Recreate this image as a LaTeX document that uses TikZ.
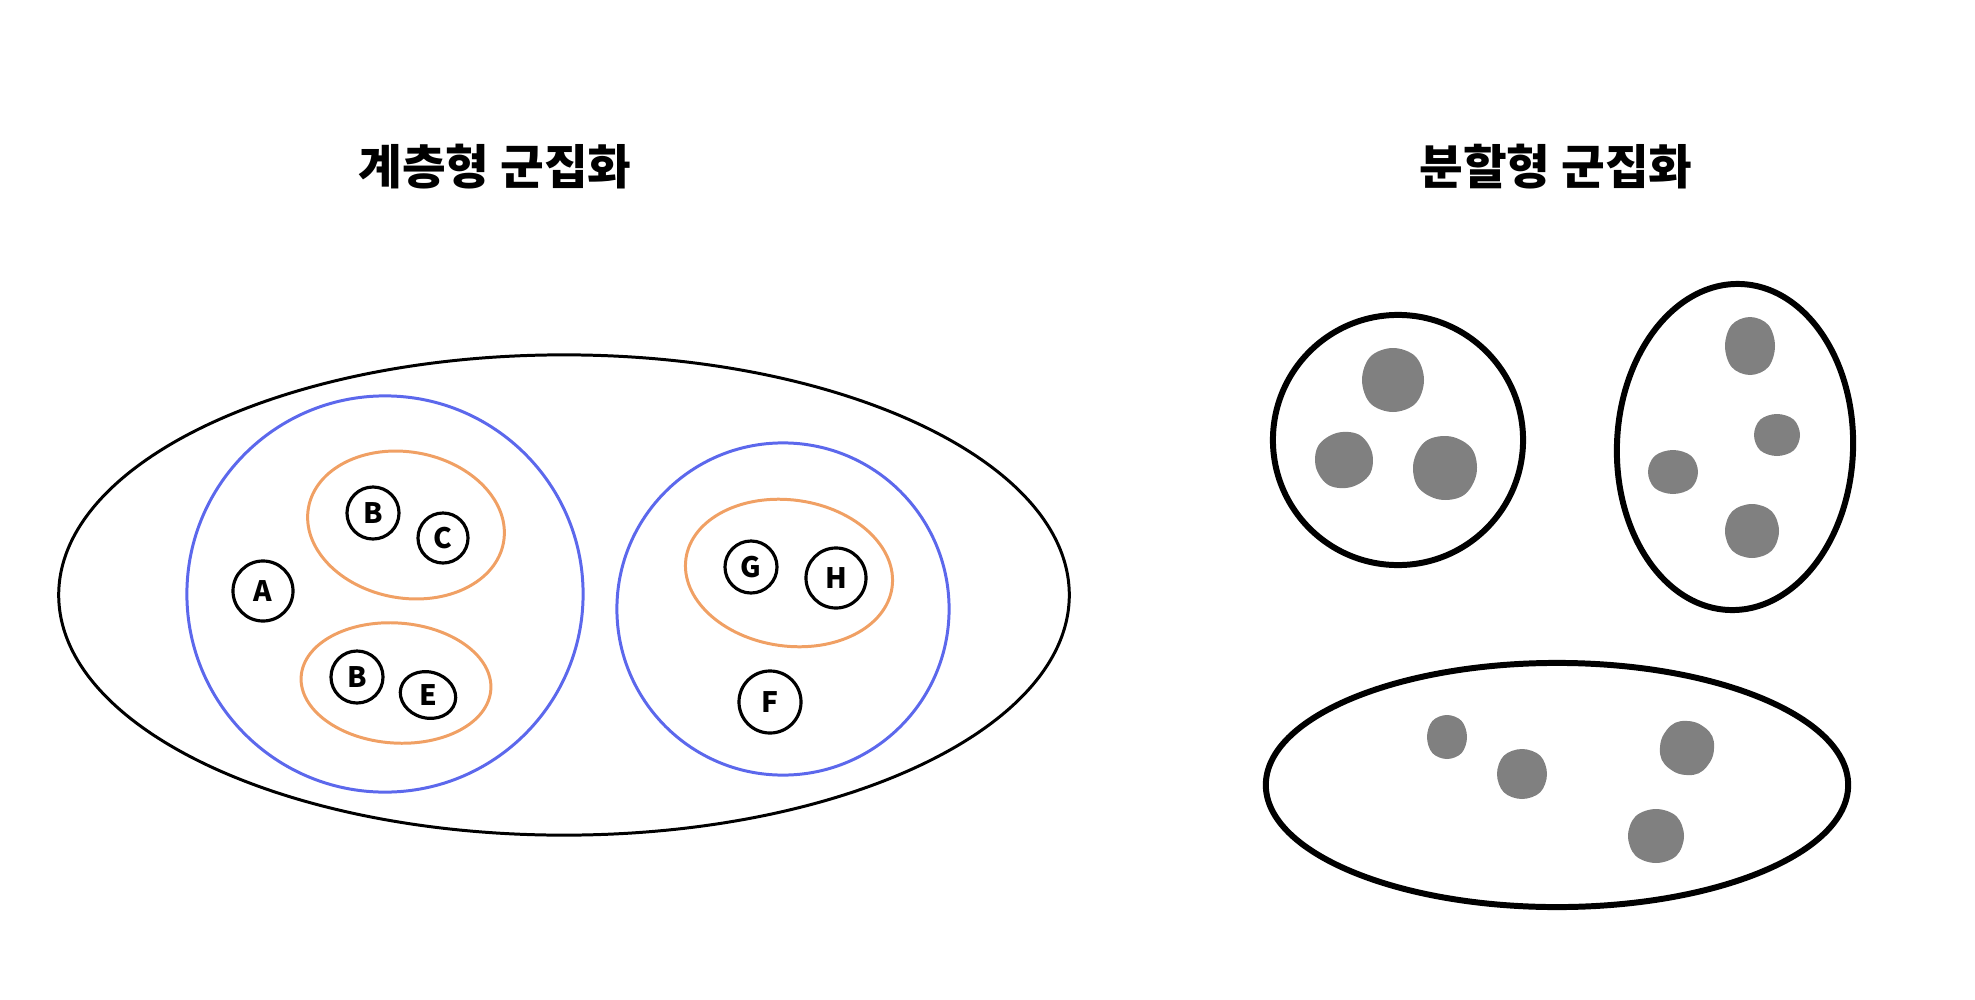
\documentclass[tikz,border=0pt]{standalone}
\usepackage{fontspec}
\usepackage{graphicx}
\usetikzlibrary{shapes.geometric}
\newfontfamily\kr{Noto Sans CJK KR}
\definecolor{cblue}{RGB}{92,104,236}
\definecolor{corange}{RGB}{240,160,100}
\definecolor{cgray}{RGB}{128,128,128}
\tikzset{
  title/.style={font=\kr\bfseries\fontsize{13.5}{15}\selectfont, inner sep=0pt},
  item/.style={circle, draw=black, line width=0.9pt, inner sep=0pt, font=\kr\bfseries\fontsize{8}{9}\selectfont},
  outerline/.style={draw=black, line width=0.85pt},
  bluering/.style={draw=cblue, line width=0.85pt},
  orangering/.style={draw=corange, line width=0.85pt},
  partline/.style={draw=black, line width=1.7pt},
  blob/.style={fill=cgray, draw=none}
}
% rounded blob: centre x, centre y, half width, half height, rotation
\newcommand\myblob[5]{%
  \fill[blob, rotate around={#5:(#1,#2)}] plot[smooth cycle, tension=0.6] coordinates {
    ({#1+#3},{#2}) ({#1+0.73*#3},{#2+0.73*#4}) ({#1},{#2+#4}) ({#1-0.73*#3},{#2+0.73*#4})
    ({#1-#3},{#2}) ({#1-0.73*#3},{#2-0.73*#4}) ({#1},{#2-#4}) ({#1+0.73*#3},{#2-0.73*#4})};}
\begin{document}
\begin{tikzpicture}[x=0.01cm,y=-0.01cm]
\path[use as bounding box] (0,0) rectangle (1975,1000);
% titles
\node[title] (t1) at (495,167) {계층형 군집화};
\node[title] (t2) at (1556,167) {분할형 군집화};
% hierarchical
\draw[outerline] (564,595) ellipse [x radius=5.05cm, y radius=2.4cm];
\draw[bluering] (385,594) circle [radius=1.98cm];
\draw[bluering] (783,609) circle [radius=1.66cm];
\draw[orangering, rotate around={-10:(406,525)}] (406,525) ellipse [x radius=0.99cm, y radius=0.73cm];
\draw[orangering, rotate around={-4:(396,683)}] (396,683) ellipse [x radius=0.95cm, y radius=0.60cm];
\draw[orangering, rotate around={-8:(789,573)}] (789,573) ellipse [x radius=1.04cm, y radius=0.73cm];
\node[item, minimum size=0.60cm] (A) at (263,591) {A};
\node[item, minimum size=0.52cm] (B1) at (373,513) {B};
\node[item, minimum size=0.50cm] (C) at (443,538) {C};
\node[item, minimum size=0.52cm] (B2) at (357,677) {B};
\node[item, ellipse, minimum width=0.56cm, minimum height=0.46cm, rotate=-15] (E) at (428,695) {\rotatebox{15}{E}};
\node[item, minimum size=0.52cm] (G) at (751,567) {G};
\node[item, minimum size=0.60cm] (H) at (836,578) {H};
\node[item, minimum size=0.62cm] (F) at (770,702) {F};
% partitional
\draw[partline] (1398,440) circle [radius=1.25cm];
\draw[partline, rotate around={-2:(1735,447)}] (1735,447) ellipse [x radius=1.18cm, y radius=1.63cm];
\draw[partline] (1557,785) ellipse [x radius=2.91cm, y radius=1.22cm];
% blobs
\myblob{1393}{380}{31}{32}{0}
\myblob{1344}{460}{29}{28}{15}
\myblob{1445}{468}{32}{32}{-10}
\myblob{1750}{346}{25}{29}{0}
\myblob{1777}{435}{23}{21}{0}
\myblob{1673}{472}{25}{22}{0}
\myblob{1752}{531}{27}{27}{0}
\myblob{1447}{737}{20}{22}{0}
\myblob{1522}{774}{25}{25}{0}
\myblob{1687}{748}{27}{27}{-20}
\myblob{1656}{836}{28}{27}{0}
\end{tikzpicture}
\end{document}
